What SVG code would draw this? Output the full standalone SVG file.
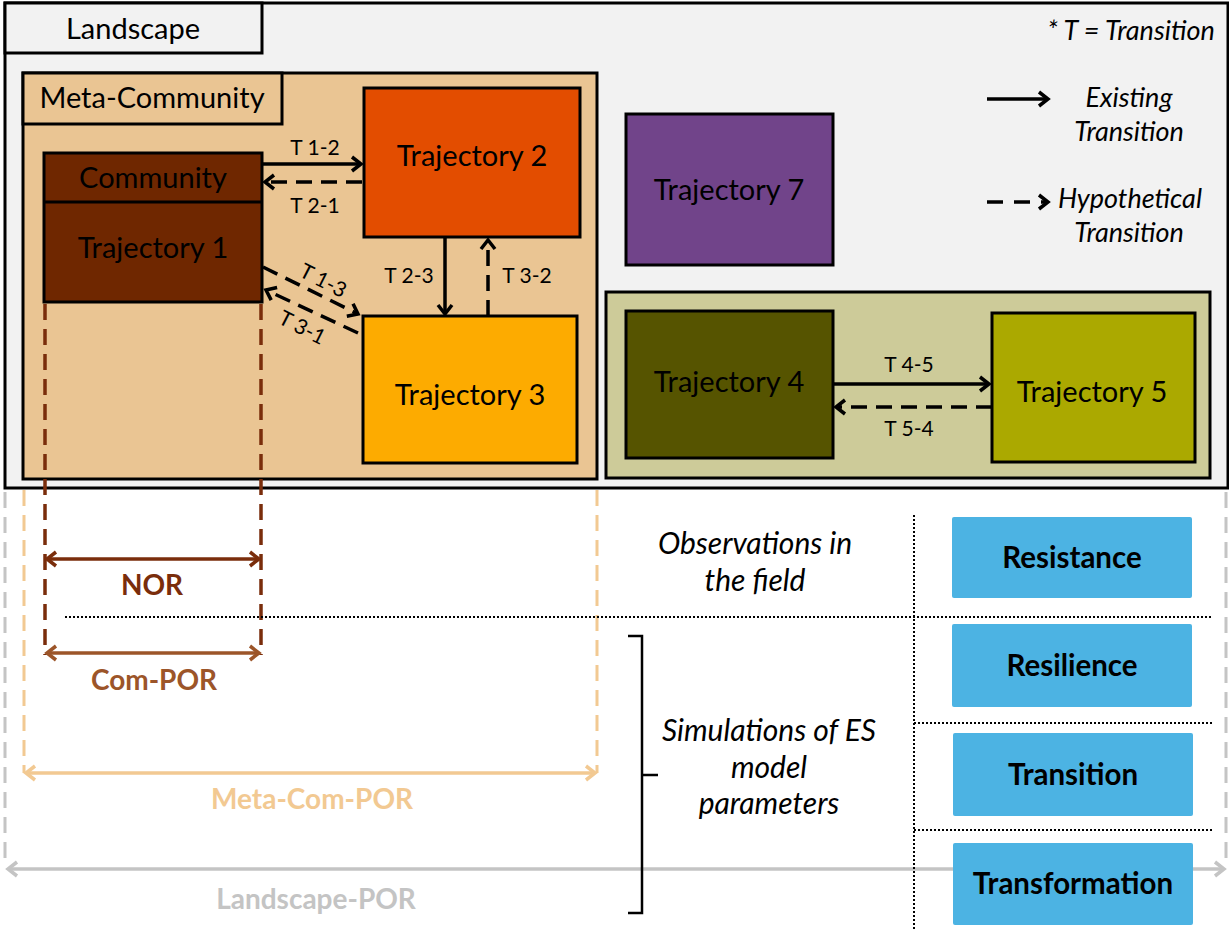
<svg xmlns="http://www.w3.org/2000/svg" width="1229" height="929" viewBox="0 0 1229 929">
<defs>
<style>
.box{stroke:#000;stroke-width:3}
.txt{font-family:Lato,"Open Sans","Liberation Sans",sans-serif;fill:#000}
.lbl{font-size:29px;text-anchor:middle}
.tl{font-size:21px;text-anchor:middle}
.it{font-style:italic;font-size:27px;text-anchor:middle}
.it2{font-style:italic;font-size:30px;text-anchor:middle}
.bd{font-weight:bold;font-size:28px;text-anchor:middle}
.bb{font-weight:bold;font-size:29.5px;text-anchor:middle}
.con{stroke:#000;stroke-width:3.5;fill:none}
.dash{stroke-dasharray:16 9}
.dot{stroke:#000;stroke-width:2;stroke-dasharray:2 2;fill:none}
.blue{fill:#4cb3e3}
</style>
<marker id="ah" markerUnits="userSpaceOnUse" markerWidth="20" markerHeight="20" refX="12" refY="9" orient="auto-start-reverse" overflow="visible">
<path d="M3,2 L12,9 L3,16" fill="none" stroke="#000" stroke-width="3.5"/>
</marker>
<marker id="ah-nor" markerUnits="userSpaceOnUse" markerWidth="20" markerHeight="20" refX="12" refY="9" orient="auto-start-reverse" overflow="visible">
<path d="M3,2 L12,9 L3,16" fill="none" stroke="#7a2d0b" stroke-width="3.5"/>
</marker>
<marker id="ah-com" markerUnits="userSpaceOnUse" markerWidth="20" markerHeight="20" refX="12" refY="9" orient="auto-start-reverse" overflow="visible">
<path d="M3,2 L12,9 L3,16" fill="none" stroke="#9c5529" stroke-width="3.5"/>
</marker>
<marker id="ah-meta" markerUnits="userSpaceOnUse" markerWidth="20" markerHeight="20" refX="12" refY="9" orient="auto-start-reverse" overflow="visible">
<path d="M3,2 L12,9 L3,16" fill="none" stroke="#f2c992" stroke-width="3.5"/>
</marker>
<marker id="ah-land" markerUnits="userSpaceOnUse" markerWidth="20" markerHeight="20" refX="12" refY="9" orient="auto-start-reverse" overflow="visible">
<path d="M3,2 L12,9 L3,16" fill="none" stroke="#c4c4c4" stroke-width="3.5"/>
</marker>
</defs>
<rect width="1229" height="929" fill="#fff"/>

<g id="landscape">
<rect class="box" x="5" y="3" width="1223" height="485" fill="#f2f2f2"/>
<rect class="box" x="5" y="3" width="257" height="50" fill="#f2f2f2"/>
<text class="txt lbl" x="133" y="39">Landscape</text>
<text class="txt it" x="1131" y="40">* T = Transition</text>
</g>

<g id="meta-community">
<rect class="box" x="23" y="73" width="574" height="406" fill="#eac593"/>
<rect class="box" x="23" y="73" width="259" height="51" fill="#eac593"/>
<text class="txt lbl" x="152" y="108">Meta-Community</text>
</g>

<g id="ranges">
<line x1="5" y1="492" x2="5" y2="866" stroke="#c4c4c4" stroke-width="3" stroke-dasharray="16 9"/>
<line x1="1226" y1="492" x2="1226" y2="866" stroke="#c4c4c4" stroke-width="3" stroke-dasharray="16 9"/>
<line x1="24" y1="490" x2="24" y2="773" stroke="#f2c992" stroke-width="3" stroke-dasharray="16 9"/>
<line x1="597" y1="490" x2="597" y2="773" stroke="#f2c992" stroke-width="3" stroke-dasharray="16 9"/>
<line x1="45" y1="304" x2="45" y2="655" stroke="#7a2d0b" stroke-width="3.5" stroke-dasharray="16 9"/>
<line x1="261" y1="304" x2="261" y2="655" stroke="#7a2d0b" stroke-width="3.5" stroke-dasharray="16 9"/>
</g>

<g id="trajectory1">
<rect class="box" x="44" y="153" width="218" height="149" fill="#6f2700"/>
<line class="box" x1="44" y1="202" x2="262" y2="202"/>
<text class="txt lbl" x="153" y="188">Community</text>
<text class="txt lbl" x="153" y="258">Trajectory 1</text>
</g>

<g id="trajectory2">
<rect class="box" x="364" y="88" width="216" height="149" fill="#e34d00"/>
<text class="txt lbl" x="472" y="166">Trajectory 2</text>
</g>

<g id="trajectory3">
<rect class="box" x="363" y="316" width="214" height="147" fill="#fdab00"/>
<text class="txt lbl" x="470" y="405">Trajectory 3</text>
</g>

<g id="trajectory7">
<rect class="box" x="626" y="114" width="207" height="151" fill="#71448a"/>
<text class="txt lbl" x="729" y="200">Trajectory 7</text>
</g>

<g id="group45">
<rect class="box" x="606" y="292" width="604" height="186" fill="#cdcb99"/>
</g>

<g id="trajectory4">
<rect class="box" x="626" y="311" width="207" height="147" fill="#565400"/>
<text class="txt lbl" x="729" y="392">Trajectory 4</text>
</g>

<g id="trajectory5">
<rect class="box" x="992" y="313" width="203" height="149" fill="#aba900"/>
<text class="txt lbl" x="1092" y="402">Trajectory 5</text>
</g>

<g id="connectors">
<line class="con" x1="262" y1="164" x2="361" y2="164" marker-end="url(#ah)"/>
<line class="con dash" x1="362" y1="182" x2="265" y2="182" marker-end="url(#ah)"/>
<line class="con" x1="445" y1="237" x2="445" y2="314" marker-end="url(#ah)"/>
<line class="con dash" x1="488" y1="316" x2="488" y2="240" marker-end="url(#ah)"/>
<line class="con dash" x1="263" y1="267" x2="358" y2="314" marker-end="url(#ah)"/>
<line class="con dash" x1="358" y1="333" x2="266" y2="290" marker-end="url(#ah)"/>
<line class="con" x1="833" y1="384" x2="989" y2="384" marker-end="url(#ah)"/>
<line class="con dash" x1="992" y1="407" x2="836" y2="407" marker-end="url(#ah)"/>
<text class="txt tl" x="315" y="155">T 1-2</text>
<text class="txt tl" x="315" y="213">T 2-1</text>
<text class="txt tl" x="409" y="283">T 2-3</text>
<text class="txt tl" x="527" y="283">T 3-2</text>
<text class="txt tl" transform="translate(320,287) rotate(27)">T 1-3</text>
<text class="txt tl" transform="translate(299,334) rotate(27)">T 3-1</text>
<text class="txt tl" x="909" y="372">T 4-5</text>
<text class="txt tl" x="909" y="436">T 5-4</text>
</g>

<g id="legend">
<line class="con" x1="987" y1="99" x2="1048" y2="99" marker-end="url(#ah)"/>
<text class="txt it" x="1129" y="107">Existing</text>
<text class="txt it" x="1129" y="141">Transition</text>
<line class="con" x1="987" y1="202" x2="1048" y2="202" stroke-dasharray="16 11" marker-end="url(#ah)"/>
<text class="txt it" x="1130" y="208">Hypothetical</text>
<text class="txt it" x="1129" y="242">Transition</text>
</g>

<g id="scales">
<line x1="8" y1="869" x2="1224" y2="869" stroke="#c4c4c4" stroke-width="3.5" marker-start="url(#ah-land)" marker-end="url(#ah-land)"/>
<text class="txt bd" x="316" y="909" style="fill:#c4c4c4">Landscape-POR</text>
<line x1="26" y1="773" x2="595" y2="773" stroke="#f2c992" stroke-width="3.5" marker-start="url(#ah-meta)" marker-end="url(#ah-meta)"/>
<text class="txt bd" x="312" y="809" style="fill:#f2c992">Meta-Com-POR</text>
<line x1="47" y1="559" x2="259" y2="559" stroke="#7a2d0b" stroke-width="3.5" marker-start="url(#ah-nor)" marker-end="url(#ah-nor)"/>
<text class="txt bd" x="152" y="595" style="fill:#7a2d0b">NOR</text>
<line x1="47" y1="653" x2="259" y2="653" stroke="#9c5529" stroke-width="3.5" marker-start="url(#ah-com)" marker-end="url(#ah-com)"/>
<text class="txt bd" x="154" y="690" style="fill:#9c5529">Com-POR</text>
</g>

<g id="table">
<line class="dot" x1="65" y1="617" x2="1212" y2="617"/>
<line class="dot" x1="914" y1="515" x2="914" y2="929"/>
<line class="dot" x1="914" y1="723" x2="1212" y2="723"/>
<line class="dot" x1="914" y1="830" x2="1212" y2="830"/>
<text class="txt it2" x="755" y="554">Observations in</text>
<text class="txt it2" x="755" y="591">the field</text>
<path d="M628,636 H642 V913 H628 M642,775 H658" fill="none" stroke="#000" stroke-width="2.5"/>
<text class="txt it2" x="769" y="741">Simulations of ES</text>
<text class="txt it2" x="769" y="778">model</text>
<text class="txt it2" x="769" y="814">parameters</text>
</g>

<g id="resistance">
<rect class="blue" x="952" y="517" width="240" height="81" rx="2"/>
<text class="txt bb" x="1072" y="568">Resistance</text>
</g>
<g id="resilience">
<rect class="blue" x="952" y="624" width="240" height="83" rx="2"/>
<text class="txt bb" x="1072" y="676">Resilience</text>
</g>
<g id="transition">
<rect class="blue" x="953" y="733" width="240" height="83" rx="2"/>
<text class="txt bb" x="1073" y="785">Transition</text>
</g>
<g id="transformation">
<rect class="blue" x="953" y="843" width="240" height="82" rx="2"/>
<text class="txt bb" x="1073" y="894">Transformation</text>
</g>
</svg>
